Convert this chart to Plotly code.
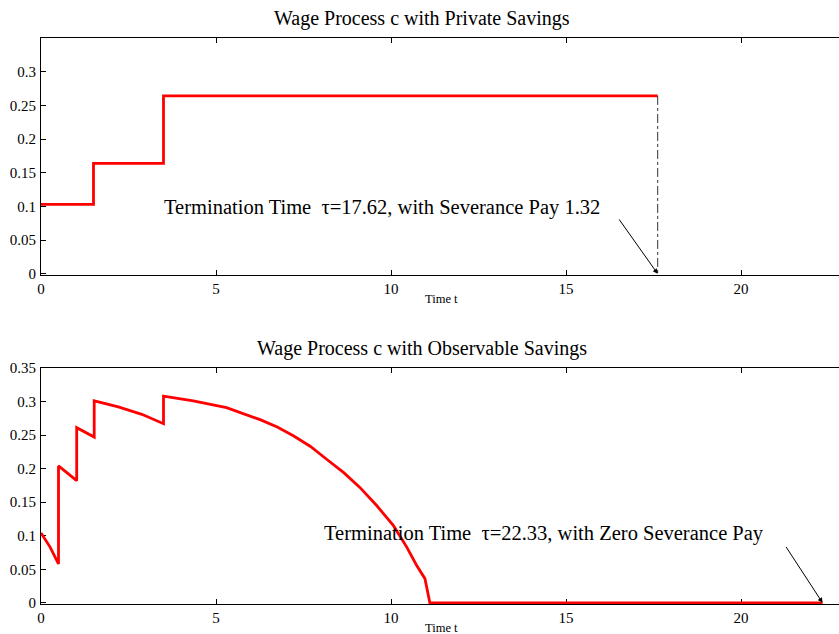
import plotly.graph_objects as go
from plotly.subplots import make_subplots

# Top panel: private savings (step function)
t_priv = [0, 1.5, 1.5, 3.5, 3.5, 17.62]
c_priv = [0.103, 0.103, 0.164, 0.164, 0.264, 0.264]
tau_priv = 17.62

# Bottom panel: observable savings
t_obs = [0, 0.26, 0.5, 0.5, 1.02, 1.02, 1.52, 1.52, 2.21, 2.88, 3.5, 3.5,
         4.35, 5.30, 6.26, 6.75, 7.21, 7.70, 8.16, 8.65, 9.11, 9.59, 10.07, 10.45, 10.73, 10.97, 11.11, 22.33]
c_obs = [0.104, 0.083, 0.058, 0.204, 0.182, 0.261, 0.247, 0.301, 0.292, 0.281, 0.267, 0.308,
         0.301, 0.291, 0.273, 0.262, 0.249, 0.233, 0.214, 0.194, 0.172, 0.145, 0.115, 0.083, 0.056, 0.036, 0.0, 0.0]
tau_obs = 22.33

titles = ["Wage Process c with Private Savings", "Wage Process c with Observable Savings"]
xlab = "Time t"
note_priv = "Termination Time  τ=17.62, with Severance Pay 1.32"
note_obs = "Termination Time  τ=22.33, with Zero Severance Pay"

FONT = "Liberation Serif"
xmax = (839 - 41) / 35.0
ymin = -0.0018

fig = make_subplots(rows=2, cols=1)
fig.add_trace(go.Scatter(x=t_priv, y=c_priv, mode="lines", line=dict(color="#ff0000", width=2.8),
                         showlegend=False), row=1, col=1)
fig.add_trace(go.Scatter(x=[tau_priv, tau_priv], y=[c_priv[-1], 0], mode="lines",
                         line=dict(color="#333333", width=1, dash="dashdot"), showlegend=False), row=1, col=1)
fig.add_trace(go.Scatter(x=t_obs, y=c_obs, mode="lines", line=dict(color="#ff0000", width=2.8),
                         showlegend=False), row=2, col=1)

top_dom = [(604 - 275) / 566, 1.0]
bot_dom = [0.0, (604 - 368) / 566]

axis_common = dict(showline=True, linecolor="black", linewidth=1.2, ticks="inside", ticklen=5,
                   tickcolor="black", showgrid=False, zeroline=False, layer="below traces",
                   tickfont=dict(family=FONT, size=15, color="black"))

fig.update_layout(
    width=839, height=634, plot_bgcolor="white", paper_bgcolor="white",
    margin=dict(l=41, r=0, t=38, b=30),
    font=dict(family=FONT, color="black"),
    xaxis=dict(axis_common, range=[0, xmax], domain=[0, 1], mirror="ticks", tickvals=[0, 5, 10, 15, 20],
               anchor="y"),
    yaxis=dict(axis_common, range=[ymin, 0.35], domain=top_dom, tickvals=[0, 0.05, 0.1, 0.15, 0.2, 0.25, 0.3],
               ticktext=["0", "0.05", "0.1", "0.15", "0.2", "0.25", "0.3"], ticklabelstandoff=1),
    xaxis2=dict(axis_common, range=[0, xmax], domain=[0, 1], mirror="ticks", tickvals=[0, 5, 10, 15, 20],
                anchor="y2"),
    yaxis2=dict(axis_common, range=[ymin, 0.35], domain=bot_dom,
                tickvals=[0, 0.05, 0.1, 0.15, 0.2, 0.25, 0.3, 0.35],
                ticktext=["0", "0.05", "0.1", "0.15", "0.2", "0.25", "0.3", "0.35"], ticklabelstandoff=1),
)

ann = []
# titles
ann.append(dict(text=titles[0], x=(422 - 41) / 798, xref="paper", y=1.0, yref="paper", showarrow=False,
                font=dict(family=FONT, size=20), yanchor="bottom", yshift=6))
ann.append(dict(text=titles[1], x=(422 - 41) / 798, y=bot_dom[1], xref="paper", yref="paper", showarrow=False,
                font=dict(family=FONT, size=20), yanchor="bottom", yshift=6))
# x labels
ann.append(dict(text=xlab, x=(441 - 41) / 798, xref="paper", y=top_dom[0], yref="paper", yshift=-24,
                showarrow=False, font=dict(family=FONT, size=12.5), yanchor="middle"))
ann.append(dict(text=xlab, x=(441 - 41) / 798, xref="paper", y=0, yref="paper", yshift=-24,
                showarrow=False, font=dict(family=FONT, size=12.5), yanchor="middle"))
# notes
ann.append(dict(text=note_priv, x=9.75, y=0.099, xref="x", yref="y", showarrow=False,
                font=dict(family=FONT, size=20.5)))
ann.append(dict(text=note_obs, x=14.37, y=0.103, xref="x2", yref="y2", showarrow=False,
                font=dict(family=FONT, size=20.5)))
# arrows
ann.append(dict(text="", x=tau_priv, y=0, xref="x", yref="y", ax=16.49, ay=0.0828, axref="x", ayref="y",
                showarrow=True, arrowhead=2, arrowsize=1, arrowwidth=1, arrowcolor="black"))
ann.append(dict(text="", x=tau_obs, y=0, xref="x2", yref="y2", ax=21.26, ay=0.0855, axref="x2", ayref="y2",
                showarrow=True, arrowhead=2, arrowsize=1, arrowwidth=1, arrowcolor="black"))
fig.update_layout(annotations=ann)

fig.write_html("out.html", config={"displayModeBar": False},
               post_script="document.body.style.margin='0';document.body.style.overflow='hidden';")
